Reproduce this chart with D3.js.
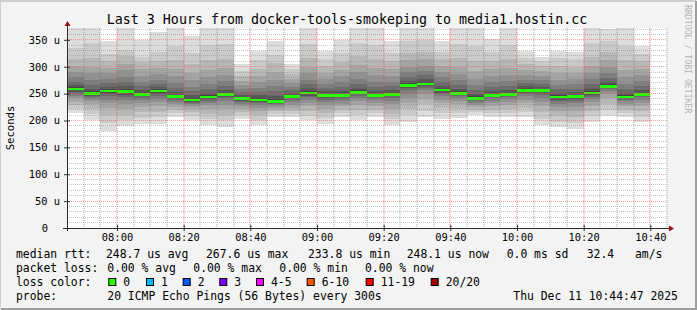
<!DOCTYPE html>
<html>
<head>
<meta charset="utf-8">
<script src="https://cdn.jsdelivr.net/npm/d3@7"></script>
<style>
html, body { margin: 0; padding: 0; background: #f3f3f3; }
svg { display: block; font-family: "DejaVu Sans Mono", monospace; }
</style>
</head>
<body>
<svg id="chart" width="697" height="310"></svg>
<script>
const TITLE = 'Last 3 Hours from docker-tools-smokeping to media1.hostin.cc';
const DAY = '2025-12-11';
const START = '07:45';
const END = '10:45';
const STEP_MIN = 5; // one column per 300s

// median rtt per 5 min step, in microseconds
const medians = [258, 250, 254, 253, 248, 254, 244, 238, 243, 248, 240, 238, 235, 244, 250.6, 246, 246,
    252, 246, 248, 265, 267.6, 256, 250, 240.7, 246, 248, 255.5, 255, 243, 244, 250.6, 263, 243, 248.1];

// the 20 sorted pings of each step (us), values above the top are cut off
const pings = [
    [213,222,229,235,241,246,250,253,256,258,259,262,266,272,280,291,302,314,335,385],
    [201,212,222,230,236,240,243,246,248,250,251,254,259,266,276,289,300,316,345,385],
    [181,195,210,223,232,239,245,249,252,254,255,258,263,270,278,288,298,310,324,348],
    [189,200,211,221,230,238,244,248,251,253,254,258,264,271,281,293,305,320,332,385],
    [194,205,215,225,232,238,242,245,247,248,249,252,257,264,272,283,295,308,318,350],
    [194,206,216,226,234,240,245,249,252,254,255,258,262,268,276,286,297,310,328,364],
    [206,213,219,225,230,235,238,241,243,244,245,248,253,260,270,282,295,312,338,385],
    [200,208,215,221,226,230,233,235,237,238,239,242,247,254,263,275,288,305,325,357],
    [191,202,212,221,228,233,237,240,242,243,244,247,252,259,268,280,294,312,340,385],
    [188,200,211,221,229,236,241,244,246,248,249,252,257,264,273,285,298,315,342,385],
    [203,210,216,222,227,231,234,237,239,240,241,244,248,253,259,266,274,283,292,305],
    [191,201,210,218,224,229,232,235,237,238,239,242,247,253,261,271,282,296,312,330],
    [206,212,217,221,225,228,230,232,234,235,236,240,246,254,264,276,290,306,322,348],
    [206,212,218,224,229,234,238,241,243,244,245,248,252,257,263,270,278,287,295,305],
    [200,209,218,226,233,239,243,246,249,250.6,252,255,260,267,276,288,300,316,342,385],
    [194,204,213,221,228,234,238,242,244,246,247,250,254,260,268,278,289,302,315,330],
    [206,213,220,226,231,236,240,243,245,246,247,250,255,262,271,282,294,308,325,350],
    [200,210,220,229,236,242,246,249,251,252,253,256,261,268,278,290,303,320,345,385],
    [206,213,220,227,233,238,241,244,245,246,247,250,255,262,272,285,298,315,340,385],
    [191,202,212,222,230,237,241,245,247,248,249,252,257,264,272,283,295,310,325,348],
    [197,210,222,233,242,250,256,260,263,265,266,269,274,281,290,300,312,326,348,385],
    [206,218,230,240,249,256,261,264,266,267.6,269,272,277,284,292,302,314,328,350,385],
    [203,213,223,232,239,245,249,252,254,256,257,260,265,272,280,290,301,314,328,348],
    [205,214,222,230,236,241,245,247,249,250,251,254,259,266,275,287,300,316,342,385],
    [210,215,220,225,229,233,236,238,240,240.7,242,245,250,257,266,278,292,310,338,385],
    [206,213,220,227,232,237,241,243,245,246,247,250,255,262,271,282,295,310,328,352],
    [206,214,222,229,235,240,243,246,247,248,249,252,257,264,273,285,298,315,340,385],
    [206,215,224,232,239,245,249,252,254,255.5,257,260,264,269,276,284,294,305,317,330],
    [191,203,215,226,235,242,247,251,253,255,256,259,263,268,275,283,292,301,310,318],
    [188,198,208,217,225,231,236,239,241,243,244,247,252,258,266,276,288,302,316,330],
    [185,196,207,217,225,232,237,240,242,244,245,248,253,259,267,277,288,300,314,327],
    [197,208,218,227,234,240,244,247,249,250.6,252,255,260,267,277,289,302,318,345,385],
    [209,220,231,241,249,255,259,261,262,263,264,267,272,279,288,299,312,328,348,370],
    [206,213,220,226,231,236,239,241,242,243,244,247,252,259,268,280,294,312,338,385],
    [197,207,217,226,233,239,243,246,247,248.1,249,252,257,264,273,284,296,310,324,339]
];

const Y_MAX = 372;
const yMajorTicks = [0, 50, 100, 150, 200, 250, 300, 350];
const yTickLabels = ['0', '50 u', '100 u', '150 u', '200 u', '250 u', '300 u', '350 u'];
const xTickLabels = ['08:00', '08:20', '08:40', '09:00', '09:20', '09:40', '10:00', '10:20', '10:40'];

const lossLabels = ['0', '1', '2', '3', '4-5', '6-10', '11-19', '20/20'];
const lossColors = ['#26ff00', '#00b8ff', '#0059ff', '#7e00ff', '#ff00ff', '#ff5500', '#ff0000', '#a10000'];

const statRtt = ['248.7 us avg', '267.6 us max', '233.8 us min', '248.1 us now', '0.0 ms sd', '32.4', 'am/s'];
const statLoss = ['0.00 % avg', '0.00 % max', '0.00 % min', '0.00 % now'];
const probeText = '20 ICMP Echo Pings (56 Bytes) every 300s';
const stamp = 'Thu Dec 11 10:44:47 2025';

const W = 697, H = 310;
const PLOT = { left: 67, right: 667, top: 28, bottom: 228 };

const svg = d3.select('#chart');
const parseTime = d3.timeParse('%Y-%m-%d %H:%M');
const t0 = parseTime(DAY + ' ' + START);
const t1 = parseTime(DAY + ' ' + END);

const x = d3.scaleTime().domain([t0, t1]).range([PLOT.left, PLOT.right]);
const y = d3.scaleLinear().domain([0, Y_MAX]).range([PLOT.bottom, PLOT.top]);
const colTime = (i) => d3.timeMinute.offset(t0, i * STEP_MIN);

// frame
svg.append('rect').attr('width', W).attr('height', H).attr('fill', '#f3f3f3');
svg.append('path').attr('d', `M0,${H - 1}V1H${W - 1}`).attr('stroke', '#cfcfcf').attr('stroke-width', 2).attr('fill', 'none');
svg.append('path').attr('d', `M1,${H - 1}H${W - 1}V1`).attr('stroke', '#9e9e9e').attr('stroke-width', 2).attr('fill', 'none');

svg.append('rect')
    .attr('x', PLOT.left).attr('y', PLOT.top)
    .attr('width', PLOT.right - PLOT.left).attr('height', PLOT.bottom - PLOT.top)
    .attr('fill', '#ffffff');

svg.append('clipPath').attr('id', 'plotclip')
    .append('rect')
    .attr('x', PLOT.left).attr('y', PLOT.top)
    .attr('width', PLOT.right - PLOT.left).attr('height', PLOT.bottom - PLOT.top);

// smoke: pair i spans ping[i] .. ping[19-i], outer pairs lighter
const half = 10;
const smoke = svg.append('g').attr('clip-path', 'url(#plotclip)').attr('shape-rendering', 'crispEdges');
pings.forEach((p, col) => {
    const xa = x(colTime(col)), xb = x(colTime(col + 1));
    for (let i = 0; i < half; i++) {
        const g = Math.floor(190 / half * (half - (i + 1))) + 50;
        smoke.append('rect')
            .attr('x', xa).attr('width', xb - xa)
            .attr('y', y(p[19 - i])).attr('height', y(p[i]) - y(p[19 - i]))
            .attr('fill', d3.rgb(g, g, g));
    }
});

// median line, coloured by loss (all 0 here)
smoke.selectAll('rect.median')
    .data(medians)
    .enter()
    .append('rect')
    .attr('class', 'median')
    .attr('x', (d, i) => x(colTime(i)))
    .attr('width', (d, i) => x(colTime(i + 1)) - x(colTime(i)))
    .attr('y', (d) => y(d) - 1.5)
    .attr('height', 2.5)
    .attr('fill', lossColors[0]);

// grid on top of the smoke; vertical lines sit on whole pixels so they show as soft 2px dots
const startMinute = 45; // 07:45
const vLines = d3.range(STEP_MIN, 181, STEP_MIN).map((m) => ({
    px: Math.round(x(d3.timeMinute.offset(t0, m))),
    major: (startMinute + m) % 20 === 0
}));
const hLines = d3.range(10, Y_MAX, 10).map((v) => ({ px: Math.floor(y(v) + 0.01) + 0.5, major: v % 50 === 0 }));
const vPath = (major) => vLines.filter((d) => d.major === major).map((d) => `M${d.px},${PLOT.top}V${PLOT.bottom}`).join('');
const hPath = (major) => hLines.filter((d) => d.major === major).map((d) => `M${PLOT.left},${d.px}H${PLOT.right}`).join('');
svg.append('path').attr('d', vPath(false)).attr('fill', 'none')
    .attr('stroke', 'rgba(110,110,110,0.6)').attr('stroke-dasharray', '1,1');
svg.append('path').attr('d', hPath(false)).attr('fill', 'none')
    .attr('stroke', 'rgba(130,130,130,0.45)').attr('stroke-dasharray', '1,1');
svg.append('path').attr('d', vPath(true)).attr('fill', 'none')
    .attr('stroke', 'rgba(255,60,60,0.75)').attr('stroke-dasharray', '1,1');
svg.append('path').attr('d', hPath(true)).attr('fill', 'none')
    .attr('stroke', 'rgba(255,90,90,0.6)').attr('stroke-dasharray', '1,1');

// axes
const AXIS = '#2c2c2c';
svg.append('line').attr('x1', PLOT.left - 4).attr('x2', PLOT.right + 3)
    .attr('y1', PLOT.bottom + 0.5).attr('y2', PLOT.bottom + 0.5).attr('stroke', AXIS);
svg.append('line').attr('x1', PLOT.left + 0.5).attr('x2', PLOT.left + 0.5)
    .attr('y1', PLOT.bottom + 3).attr('y2', PLOT.top - 3).attr('stroke', AXIS);
svg.append('path').attr('d', `M${PLOT.left - 2.5},${PLOT.top - 2}L${PLOT.left + 3.5},${PLOT.top - 2}L${PLOT.left + 0.5},${PLOT.top - 7}Z`).attr('fill', '#9a1010');
svg.append('path').attr('d', `M${PLOT.right + 2},${PLOT.bottom - 2.5}L${PLOT.right + 2},${PLOT.bottom + 3.5}L${PLOT.right + 7},${PLOT.bottom + 0.5}Z`).attr('fill', '#9a1010');

const xAxis = d3.axisBottom(x)
    .tickValues(xTickLabels.map((s) => parseTime(DAY + ' ' + s)))
    .tickFormat(d3.timeFormat('%H:%M'))
    .tickSize(0).tickPadding(6);
const gx = svg.append('g').attr('transform', `translate(0,${PLOT.bottom})`).call(xAxis);
gx.select('.domain').remove();
gx.selectAll('text').attr('font-family', '"DejaVu Sans Mono", monospace').attr('font-size', '10.4px').attr('fill', '#000');

const yAxis = d3.axisLeft(y)
    .tickValues(yMajorTicks)
    .tickFormat((d, i) => yTickLabels[i])
    .tickSize(0).tickPadding(7);
const gy = svg.append('g').attr('transform', `translate(${PLOT.left},0)`).call(yAxis);
gy.select('.domain').remove();
gy.selectAll('text').attr('font-family', '"DejaVu Sans Mono", monospace').attr('font-size', '10.4px').attr('fill', '#000')
    .attr('dx', (d) => d === 0 ? -12 : 0);
gy.selectAll('.tick').append('line').attr('x1', -3).attr('x2', 3).attr('stroke', AXIS);
gx.selectAll('.tick').append('line').attr('y1', -3).attr('y2', 3).attr('stroke', AXIS);

// titles
svg.append('text').attr('x', 347).attr('y', 24).attr('text-anchor', 'middle')
    .attr('font-size', '13.3px').attr('fill', '#000').text(TITLE);
svg.append('text').attr('transform', `translate(14,${(PLOT.top + PLOT.bottom) / 2}) rotate(-90)`)
    .attr('text-anchor', 'middle').attr('font-size', '10.6px').attr('fill', '#000').text('Seconds');
svg.append('text').attr('transform', 'translate(685,5) rotate(90)')
    .attr('font-size', '8.2px').attr('fill', '#b4b4b4').text('RRDTOOL / TOBI OETIKER');

// legend
const LEG_FONT = '11.4px';
const legend = svg.append('g').attr('font-size', LEG_FONT).attr('fill', '#000').attr('xml:space', 'preserve');
const rows = [258, 272, 286, 300];
legend.append('text').attr('x', 16).attr('y', rows[0]).text('median rtt:');
[106, 206, 308, 406.7, 506.7, 586.7, 635].forEach((xx, i) => {
    legend.append('text').attr('x', xx).attr('y', rows[0]).text(statRtt[i]);
});
legend.append('text').attr('x', 16).attr('y', rows[1]).text('packet loss:');
[107.3, 193.3, 279.3, 365].forEach((xx, i) => {
    legend.append('text').attr('x', xx).attr('y', rows[1]).text(statLoss[i]);
});
legend.append('text').attr('x', 16).attr('y', rows[2]).text('loss color:');
const boxX = [108.3, 146, 182.7, 219.3, 256, 306.7, 365.7, 430.7];
boxX.forEach((bx, i) => {
    legend.append('rect').attr('x', bx + 0.5).attr('y', rows[2] - 7.5).attr('width', 7).attr('height', 7)
        .attr('fill', lossColors[i]).attr('stroke', '#000').attr('stroke-width', 1);
    legend.append('text').attr('x', bx + 15).attr('y', rows[2]).text(lossLabels[i]);
});
legend.append('text').attr('x', 16).attr('y', rows[3]).text('probe:');
legend.append('text').attr('x', 107.3).attr('y', rows[3]).text(probeText);
legend.append('text').attr('x', 513.3).attr('y', rows[3]).text(stamp);
</script>
</body>
</html>
